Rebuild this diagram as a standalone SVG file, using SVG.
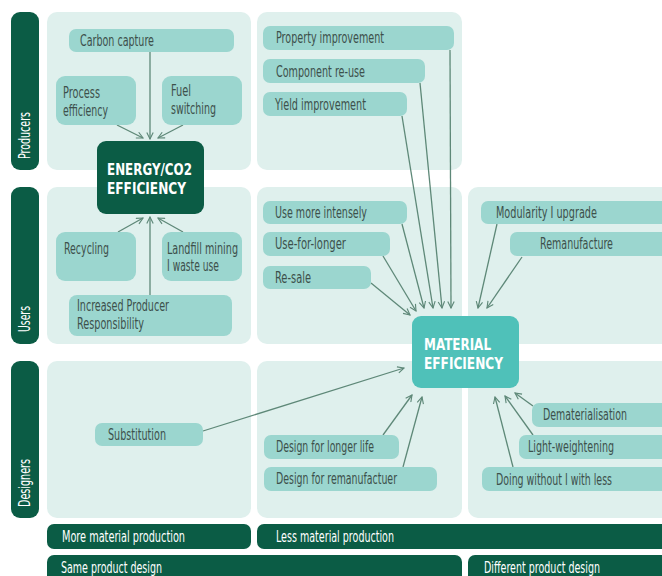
<svg xmlns="http://www.w3.org/2000/svg" width="662" height="576" viewBox="0 0 662 576">
<defs>
<style>
.bar{fill:#0b5c45}
.panel{fill:#dff0ed}
.node{fill:#9bd6cf}
.t{font-family:"DejaVu Sans Condensed","Liberation Sans Narrow","Roboto Condensed",sans-serif;font-size:15px;fill:#3d504b}
.w{font-family:"DejaVu Sans Condensed","Liberation Sans Narrow","Roboto Condensed",sans-serif;font-size:15px;fill:#ffffff}
.h{font-family:"DejaVu Sans Condensed","Liberation Sans Narrow","Roboto Condensed",sans-serif;font-size:16.5px;font-weight:bold;fill:#ffffff}
.c{fill:none;stroke:#5e8878;stroke-width:1.3}
</style>
<marker id="ah" viewBox="0 0 10 10" refX="9" refY="5" markerWidth="8" markerHeight="8" markerUnits="userSpaceOnUse" orient="auto">
<path d="M1,1 L9,5 L1,9" fill="none" stroke="#5e8878" stroke-width="1.4"/>
</marker>
</defs>
<rect width="662" height="576" fill="#ffffff"/>

<g id="row-labels">
<rect class="bar" x="11" y="12" width="28" height="158" rx="9"/>
<text class="w" transform="translate(30,159) rotate(-90)" textLength="47" lengthAdjust="spacingAndGlyphs">Producers</text>
<rect class="bar" x="11" y="187" width="28" height="157" rx="9"/>
<text class="w" transform="translate(30,332) rotate(-90)" textLength="26" lengthAdjust="spacingAndGlyphs">Users</text>
<rect class="bar" x="11" y="361" width="28" height="157" rx="9"/>
<text class="w" transform="translate(30,507) rotate(-90)" textLength="48" lengthAdjust="spacingAndGlyphs">Designers</text>
</g>

<g id="panels">
<rect class="panel" x="47" y="12" width="204" height="158" rx="10"/>
<rect class="panel" x="257" y="12" width="205" height="158" rx="10"/>
<rect class="panel" x="47" y="187" width="204" height="157" rx="10"/>
<rect class="panel" x="257" y="187" width="205" height="157" rx="10"/>
<rect class="panel" x="468" y="187" width="210" height="157" rx="10"/>
<rect class="panel" x="47" y="361" width="204" height="157" rx="10"/>
<rect class="panel" x="257" y="361" width="205" height="157" rx="10"/>
<rect class="panel" x="468" y="361" width="210" height="157" rx="10"/>
</g>

<g id="bottom-bars">
<rect class="bar" x="47" y="524" width="204" height="25" rx="7"/>
<text class="w" x="62" y="542" textLength="123" lengthAdjust="spacingAndGlyphs">More material production</text>
<rect class="bar" x="257" y="524" width="420" height="25" rx="7"/>
<text class="w" x="276" y="542" textLength="118" lengthAdjust="spacingAndGlyphs">Less material production</text>
<rect class="bar" x="47" y="555" width="415" height="30" rx="7"/>
<text class="w" x="61" y="573" textLength="101" lengthAdjust="spacingAndGlyphs">Same product design</text>
<rect class="bar" x="468" y="555" width="210" height="30" rx="7"/>
<text class="w" x="484" y="573" textLength="116" lengthAdjust="spacingAndGlyphs">Different product design</text>
</g>

<g id="connectors">
<path class="c" marker-end="url(#ah)" d="M150,52 L150,139"/>
<path class="c" marker-end="url(#ah)" d="M117,125 L143,138"/>
<path class="c" marker-end="url(#ah)" d="M183,125 L158,138"/>
<path class="c" marker-end="url(#ah)" d="M118,232 L143,218"/>
<path class="c" marker-end="url(#ah)" d="M150,295 L150,217"/>
<path class="c" marker-end="url(#ah)" d="M183,232 L158,218"/>
<path class="c" marker-end="url(#ah)" d="M450,50 L451,308"/>
<path class="c" marker-end="url(#ah)" d="M420,83 L442,308"/>
<path class="c" marker-end="url(#ah)" d="M402,116 L433,308"/>
<path class="c" marker-end="url(#ah)" d="M402,224 L424,308"/>
<path class="c" marker-end="url(#ah)" d="M383,256 L416,311"/>
<path class="c" marker-end="url(#ah)" d="M371,283 L410,315"/>
<path class="c" marker-end="url(#ah)" d="M497,224 L478,308"/>
<path class="c" marker-end="url(#ah)" d="M522,257 L487,308"/>
<path class="c" marker-end="url(#ah)" d="M203,431 L404,368"/>
<path class="c" marker-end="url(#ah)" d="M383,435 L412,395"/>
<path class="c" marker-end="url(#ah)" d="M403,467 L422,397"/>
<path class="c" marker-end="url(#ah)" d="M533,406 L515,393"/>
<path class="c" marker-end="url(#ah)" d="M533,435 L505,396"/>
<path class="c" marker-end="url(#ah)" d="M513,467 L495,397"/>
</g>

<g id="energy-efficiency">
<rect class="bar" x="97" y="141" width="107" height="73" rx="9"/>
<text class="h" x="107" y="175" textLength="85" lengthAdjust="spacingAndGlyphs">ENERGY/CO2</text>
<text class="h" x="107" y="194" textLength="79" lengthAdjust="spacingAndGlyphs">EFFICIENCY</text>
</g>

<g id="material-efficiency">
<rect x="412" y="316" width="107" height="72" rx="9" fill="#4fc1b9"/>
<text class="h" x="424" y="350" textLength="67" lengthAdjust="spacingAndGlyphs">MATERIAL</text>
<text class="h" x="424" y="369" textLength="79" lengthAdjust="spacingAndGlyphs">EFFICIENCY</text>
</g>

<g id="carbon-capture"><rect class="node" x="69" y="29" width="165" height="23" rx="7"/><text class="t" x="80" y="46" textLength="74" lengthAdjust="spacingAndGlyphs">Carbon capture</text></g>
<g id="process-efficiency"><rect class="node" x="56" y="76" width="80" height="49" rx="9"/><text class="t" x="63" y="98" textLength="37" lengthAdjust="spacingAndGlyphs">Process</text><text class="t" x="63" y="116" textLength="45" lengthAdjust="spacingAndGlyphs">efficiency</text></g>
<g id="fuel-switching"><rect class="node" x="162" y="76" width="80" height="49" rx="9"/><text class="t" x="171" y="96" textLength="20" lengthAdjust="spacingAndGlyphs">Fuel</text><text class="t" x="171" y="114" textLength="45" lengthAdjust="spacingAndGlyphs">switching</text></g>

<g id="property-improvement"><rect class="node" x="263" y="26" width="191" height="24" rx="7"/><text class="t" x="276" y="43" textLength="108" lengthAdjust="spacingAndGlyphs">Property improvement</text></g>
<g id="component-reuse"><rect class="node" x="263" y="59" width="162" height="24" rx="7"/><text class="t" x="276" y="77" textLength="89" lengthAdjust="spacingAndGlyphs">Component re-use</text></g>
<g id="yield-improvement"><rect class="node" x="263" y="92" width="144" height="24" rx="7"/><text class="t" x="275" y="110" textLength="91" lengthAdjust="spacingAndGlyphs">Yield improvement</text></g>

<g id="recycling"><rect class="node" x="56" y="232" width="80" height="49" rx="9"/><text class="t" x="64" y="254" textLength="45" lengthAdjust="spacingAndGlyphs">Recycling</text></g>
<g id="landfill-mining"><rect class="node" x="162" y="232" width="80" height="49" rx="9"/><text class="t" x="167" y="254" textLength="71" lengthAdjust="spacingAndGlyphs">Landfill mining</text><text class="t" x="167" y="271" textLength="52" lengthAdjust="spacingAndGlyphs">I waste use</text></g>
<g id="producer-responsibility"><rect class="node" x="69" y="295" width="163" height="41" rx="8"/><text class="t" x="77" y="311" textLength="92" lengthAdjust="spacingAndGlyphs">Increased Producer</text><text class="t" x="77" y="329" textLength="67" lengthAdjust="spacingAndGlyphs">Responsibility</text></g>

<g id="use-more-intensely"><rect class="node" x="263" y="201" width="144" height="23" rx="7"/><text class="t" x="275" y="218" textLength="92" lengthAdjust="spacingAndGlyphs">Use more intensely</text></g>
<g id="use-for-longer"><rect class="node" x="263" y="232" width="127" height="24" rx="7"/><text class="t" x="275" y="249" textLength="71" lengthAdjust="spacingAndGlyphs">Use-for-longer</text></g>
<g id="re-sale"><rect class="node" x="263" y="266" width="108" height="23" rx="7"/><text class="t" x="275" y="283" textLength="36" lengthAdjust="spacingAndGlyphs">Re-sale</text></g>

<g id="modularity"><rect class="node" x="481" y="201" width="195" height="23" rx="7"/><text class="t" x="496" y="218" textLength="101" lengthAdjust="spacingAndGlyphs">Modularity I upgrade</text></g>
<g id="remanufacture"><rect class="node" x="510" y="232" width="166" height="24" rx="7"/><text class="t" x="540" y="249" textLength="73" lengthAdjust="spacingAndGlyphs">Remanufacture</text></g>

<g id="substitution"><rect class="node" x="95" y="423" width="108" height="23" rx="7"/><text class="t" x="108" y="440" textLength="58" lengthAdjust="spacingAndGlyphs">Substitution</text></g>
<g id="design-longer-life"><rect class="node" x="264" y="435" width="135" height="24" rx="7"/><text class="t" x="276" y="452" textLength="98" lengthAdjust="spacingAndGlyphs">Design for longer life</text></g>
<g id="design-remanufacture"><rect class="node" x="264" y="467" width="173" height="24" rx="7"/><text class="t" x="276" y="484" textLength="121" lengthAdjust="spacingAndGlyphs">Design for remanufactuer</text></g>

<g id="dematerialisation"><rect class="node" x="532" y="403" width="144" height="24" rx="7"/><text class="t" x="543" y="420" textLength="84" lengthAdjust="spacingAndGlyphs">Dematerialisation</text></g>
<g id="light-weightening"><rect class="node" x="519" y="435" width="157" height="24" rx="7"/><text class="t" x="528" y="452" textLength="86" lengthAdjust="spacingAndGlyphs">Light-weightening</text></g>
<g id="doing-without"><rect class="node" x="482" y="467" width="194" height="24" rx="7"/><text class="t" x="496" y="485" textLength="116" lengthAdjust="spacingAndGlyphs">Doing without I with less</text></g>
</svg>
